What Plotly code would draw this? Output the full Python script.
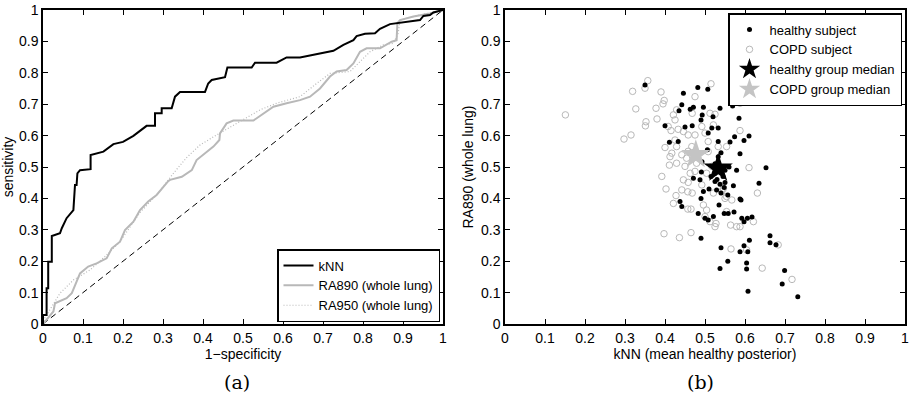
import plotly.graph_objects as go

# ---------------- data: panel (a) ROC curves ----------------
knn_fpr = [0.0, 0.0, 0.0025, 0.009, 0.009, 0.013, 0.013, 0.022, 0.022, 0.0425, 0.047, 0.059, 0.076,
           0.0775, 0.08, 0.084, 0.086, 0.0925, 0.119, 0.119, 0.134, 0.151, 0.176, 0.2, 0.226,
           0.259, 0.28, 0.28, 0.2967, 0.2967, 0.3217, 0.33, 0.3425, 0.405, 0.413, 0.4217, 0.455,
           0.461, 0.5217, 0.53, 0.584, 0.609, 0.6425, 0.676, 0.701, 0.726, 0.751, 0.776, 0.784,
           0.805, 0.83, 0.8425, 0.8675, 0.884, 0.9, 0.926, 0.9425, 0.951, 0.9675, 0.976, 1.0]
knn_tpr = [0.0, 0.029, 0.029, 0.029, 0.114, 0.114, 0.198, 0.198, 0.28, 0.289, 0.305, 0.337, 0.363,
           0.395, 0.443, 0.443, 0.48, 0.49, 0.493, 0.538, 0.544, 0.549, 0.573, 0.58, 0.599,
           0.631, 0.631, 0.671, 0.671, 0.687, 0.687, 0.724, 0.739, 0.739, 0.766, 0.777, 0.786,
           0.817, 0.817, 0.832, 0.832, 0.849, 0.849, 0.857, 0.862, 0.87, 0.889, 0.904, 0.917,
           0.924, 0.926, 0.94, 0.955, 0.958, 0.96, 0.966, 0.968, 0.981, 0.984, 0.992, 1.0]

ra890_fpr = [0.0, 0.026, 0.03, 0.059, 0.072, 0.0925, 0.113, 0.134, 0.159, 0.172, 0.1925, 0.205,
             0.226, 0.2425, 0.263, 0.284, 0.313, 0.3175, 0.347, 0.372, 0.384, 0.405, 0.426,
             0.441, 0.4425, 0.459, 0.476, 0.526, 0.551, 0.576, 0.609, 0.6425, 0.6675, 0.6925,
             0.7175, 0.734, 0.759, 0.776, 0.7925, 0.809, 0.8425, 0.8717, 0.884, 0.886, 0.8925,
             0.926, 0.9675, 1.0]
ra890_tpr = [0.0, 0.04, 0.066, 0.082, 0.098, 0.161, 0.183, 0.193, 0.209, 0.241, 0.262, 0.299,
             0.326, 0.363, 0.39, 0.411, 0.455, 0.459, 0.469, 0.49, 0.522, 0.544, 0.565,
             0.586, 0.607, 0.639, 0.648, 0.648, 0.671, 0.692, 0.703, 0.713, 0.724, 0.75,
             0.788, 0.804, 0.809, 0.83, 0.867, 0.878, 0.878, 0.899, 0.904, 0.958, 0.968,
             0.979, 0.989, 1.0]

ra950_fpr = [0.0, 0.005, 0.0425, 0.076, 0.1175, 0.155, 0.1925, 0.2425, 0.29, 0.326, 0.359, 0.3925,
             0.434, 0.476, 0.5425, 0.584, 0.6425, 0.684, 0.7175, 0.7675, 0.7925, 0.8175, 0.851,
             0.876, 0.888, 0.8925, 0.9425, 1.0]
ra950_tpr = [0.0, 0.02, 0.098, 0.14, 0.172, 0.215, 0.262, 0.355, 0.42, 0.48, 0.53, 0.57,
             0.602, 0.634, 0.682, 0.703, 0.724, 0.766, 0.798, 0.804, 0.835, 0.867, 0.889,
             0.894, 0.926, 0.968, 0.984, 1.0]

chance = [0.0, 1.0]

# ---------------- data: panel (b) scatter ----------------
healthy_knn = [0.35, 0.446, 0.482, 0.507, 0.40, 0.435, 0.442, 0.463, 0.471, 0.496, 0.493, 0.49,
               0.468, 0.45, 0.5375, 0.569, 0.585, 0.533, 0.52, 0.411, 0.433, 0.508, 0.517, 0.533,
               0.5625, 0.574, 0.5975, 0.61, 0.5875, 0.579, 0.506, 0.533, 0.54, 0.525, 0.4925,
               0.491, 0.471, 0.4875, 0.525, 0.545, 0.525, 0.5375, 0.55, 0.548, 0.571, 0.51,
               0.496, 0.529, 0.54, 0.557, 0.5875, 0.6525, 0.635, 0.59, 0.52, 0.515, 0.55, 0.56,
               0.53, 0.4375, 0.442, 0.49, 0.483, 0.5, 0.508, 0.521, 0.535, 0.548, 0.558, 0.5725,
               0.592, 0.5975, 0.606, 0.6175, 0.49, 0.54, 0.5875, 0.5975, 0.611, 0.607, 0.557,
               0.5375, 0.604, 0.604, 0.6075, 0.6625, 0.6625, 0.6775, 0.699, 0.693, 0.732]
healthy_ra890 = [0.761, 0.735, 0.753, 0.748, 0.631, 0.679, 0.698, 0.684, 0.690, 0.690, 0.666, 0.65,
                 0.631, 0.627, 0.687, 0.694, 0.655, 0.624, 0.66, 0.579, 0.581, 0.608, 0.624, 0.581,
                 0.58, 0.596, 0.584, 0.599, 0.542, 0.49, 0.555, 0.533, 0.545, 0.51, 0.517,
                 0.484, 0.464, 0.459, 0.48, 0.47, 0.454, 0.445, 0.451, 0.435, 0.44, 0.43,
                 0.422, 0.427, 0.417, 0.411, 0.398, 0.498, 0.448, 0.395, 0.5, 0.47, 0.49, 0.5,
                 0.46, 0.39, 0.374, 0.40, 0.352, 0.337, 0.331, 0.342, 0.379, 0.352, 0.352, 0.357,
                 0.337, 0.326, 0.337, 0.341, 0.273, 0.243, 0.230, 0.249, 0.267, 0.23, 0.20,
                 0.177, 0.194, 0.175, 0.104, 0.281, 0.259, 0.252, 0.17, 0.127, 0.087]

copd_knn = [0.151, 0.2975, 0.315, 0.319, 0.357, 0.35, 0.327, 0.3525, 0.351, 0.3775, 0.38, 0.39,
            0.395, 0.398, 0.40, 0.4125, 0.411, 0.392, 0.4025, 0.4275, 0.408, 0.421, 0.425, 0.429,
            0.415, 0.433, 0.446, 0.425, 0.429, 0.417, 0.429, 0.442, 0.454, 0.45, 0.463, 0.475,
            0.479, 0.458, 0.467, 0.458, 0.475, 0.492, 0.5, 0.508, 0.475, 0.468, 0.515, 0.5125,
            0.525, 0.521, 0.508, 0.517, 0.504, 0.446, 0.458, 0.442, 0.457, 0.468, 0.492, 0.521,
            0.542, 0.554, 0.571, 0.5875, 0.5875, 0.61, 0.631, 0.554, 0.533, 0.421, 0.457, 0.465,
            0.3975, 0.436, 0.465, 0.496, 0.504, 0.5, 0.5125, 0.525, 0.5275, 0.546, 0.55, 0.554,
            0.567, 0.621, 0.579, 0.5875, 0.564, 0.565, 0.604, 0.683, 0.643, 0.7175]
copd_ra890 = [0.666, 0.589, 0.602, 0.741, 0.775, 0.751, 0.685, 0.644, 0.631, 0.687, 0.653, 0.739,
              0.701, 0.712, 0.562, 0.533, 0.506, 0.47, 0.43, 0.409, 0.629, 0.666, 0.65, 0.682,
              0.616, 0.62, 0.613, 0.586, 0.565, 0.544, 0.512, 0.539, 0.528, 0.502, 0.48, 0.486,
              0.512, 0.55, 0.565, 0.602, 0.602, 0.629, 0.608, 0.581, 0.724, 0.671, 0.765, 0.671,
              0.668, 0.634, 0.549, 0.502, 0.48, 0.459, 0.451, 0.427, 0.421, 0.417, 0.443, 0.417,
              0.422, 0.406, 0.721, 0.703, 0.616, 0.498, 0.417, 0.565, 0.565, 0.384, 0.366, 0.366,
              0.2875, 0.275, 0.291, 0.379, 0.363, 0.342, 0.326, 0.31, 0.32, 0.432, 0.40, 0.358,
              0.395, 0.326, 0.31, 0.31, 0.315, 0.239, 0.236, 0.252, 0.178, 0.142]

healthy_median = [0.533, 0.496]
copd_median = [0.477, 0.539]

tick_vals = [0, 0.1, 0.2, 0.3, 0.4, 0.5, 0.6, 0.7, 0.8, 0.9, 1]
tick_text = ["0", "0.1", "0.2", "0.3", "0.4", "0.5", "0.6", "0.7", "0.8", "0.9", "1"]

GREY = "#b8b8b8"
FONT = "Liberation Sans, Arial, Helvetica, sans-serif"
FS = 14
LFS = 13

fig = go.Figure()

# panel (a)
fig.add_trace(go.Scatter(x=chance, y=chance, mode="lines", showlegend=False,
                         line=dict(color="black", width=1, dash="6px,4px"),
                         xaxis="x", yaxis="y", hoverinfo="skip"))
fig.add_trace(go.Scatter(x=ra950_fpr, y=ra950_tpr, mode="lines", name="RA950 (whole lung)",
                         line=dict(color=GREY, width=1.2, dash="1px,2px"),
                         xaxis="x", yaxis="y", legend="legend", legendrank=3))
fig.add_trace(go.Scatter(x=ra890_fpr, y=ra890_tpr, mode="lines", name="RA890 (whole lung)",
                         line=dict(color=GREY, width=2),
                         xaxis="x", yaxis="y", legend="legend", legendrank=2))
fig.add_trace(go.Scatter(x=knn_fpr, y=knn_tpr, mode="lines", name="kNN",
                         line=dict(color="black", width=2),
                         xaxis="x", yaxis="y", legend="legend", legendrank=1))

# panel (b)
fig.add_trace(go.Scatter(x=copd_knn, y=copd_ra890, mode="markers", name="COPD subject",
                         marker=dict(symbol="circle-open", size=6.5, color=GREY, line=dict(width=1)),
                         xaxis="x2", yaxis="y2", legend="legend2", legendrank=2))
fig.add_trace(go.Scatter(x=healthy_knn, y=healthy_ra890, mode="markers", name="healthy subject",
                         marker=dict(symbol="circle", size=5, color="black"),
                         xaxis="x2", yaxis="y2", legend="legend2", legendrank=1))
fig.add_trace(go.Scatter(x=[healthy_median[0]], y=[healthy_median[1]], mode="markers",
                         name="healthy group median",
                         marker=dict(symbol="star", size=22, color="black"),
                         xaxis="x2", yaxis="y2", legend="legend2", legendrank=3))
fig.add_trace(go.Scatter(x=[copd_median[0]], y=[copd_median[1]], mode="markers",
                         name="COPD group median",
                         marker=dict(symbol="star", size=22, color="#c4c4c4"),
                         xaxis="x2", yaxis="y2", legend="legend2", legendrank=4))

axis_common = dict(range=[0, 1], tickvals=tick_vals, ticktext=tick_text, ticks="inside",
                   ticklen=5, tickwidth=1, tickcolor="black", showline=True, linecolor="black",
                   linewidth=1.5, mirror="ticks", showgrid=False, zeroline=False,
                   automargin=False,
                   tickfont=dict(size=FS, color="black", family=FONT))

L, R, T, B = 43, 5, 10, 75
W, H = 910, 399
pw = W - L - R
ph = H - T - B
dom_a = [0, 400 / pw]
dom_b = [(505 - L) / pw, 1]

fig.update_layout(
    width=W, height=H,
    margin=dict(l=L, r=R, t=T, b=B, autoexpand=False),
    paper_bgcolor="white", plot_bgcolor="white",
    font=dict(family=FONT, size=FS, color="black"),
    xaxis=dict(domain=dom_a, anchor="y",
               title=dict(text="1\u2212specificity", standoff=1, font=dict(size=FS)),
               **axis_common),
    yaxis=dict(domain=[0, 1], anchor="x",
               title=dict(text="sensitivity", standoff=4, font=dict(size=FS)),
               **axis_common),
    xaxis2=dict(domain=dom_b, anchor="y2",
                title=dict(text="kNN (mean healthy posterior)", standoff=1, font=dict(size=FS)),
                **axis_common),
    yaxis2=dict(domain=[0, 1], anchor="x2",
                title=dict(text="RA890 (whole lung)", standoff=4, font=dict(size=FS)),
                **axis_common),
    legend=dict(x=(440 - L) / pw, y=(324 - 322) / ph, xanchor="right", yanchor="bottom",
                bgcolor="white", bordercolor="black", borderwidth=1.5,
                font=dict(size=LFS, family=FONT),
                tracegroupgap=0, itemwidth=30),
    legend2=dict(x=(902 - L) / pw, y=(324 - 13) / ph, xanchor="right", yanchor="top",
                 bgcolor="white", bordercolor="black", borderwidth=1.5,
                 font=dict(size=LFS, family=FONT),
                 tracegroupgap=0, itemwidth=30),
    annotations=[
        dict(text="(a)", xref="paper", yref="paper", x=(237 - L) / pw, y=(324 - 382) / ph,
             showarrow=False, xanchor="center", yanchor="middle",
             font=dict(size=19, family="DejaVu Serif, Liberation Serif, serif")),
        dict(text="(b)", xref="paper", yref="paper", x=(700 - L) / pw, y=(324 - 382) / ph,
             showarrow=False, xanchor="center", yanchor="middle",
             font=dict(size=19, family="DejaVu Serif, Liberation Serif, serif")),
    ],
)

fig.write_html("out.html", config={"displayModeBar": False},
               post_script="document.body.style.margin='0px';document.body.style.overflow='hidden';")
